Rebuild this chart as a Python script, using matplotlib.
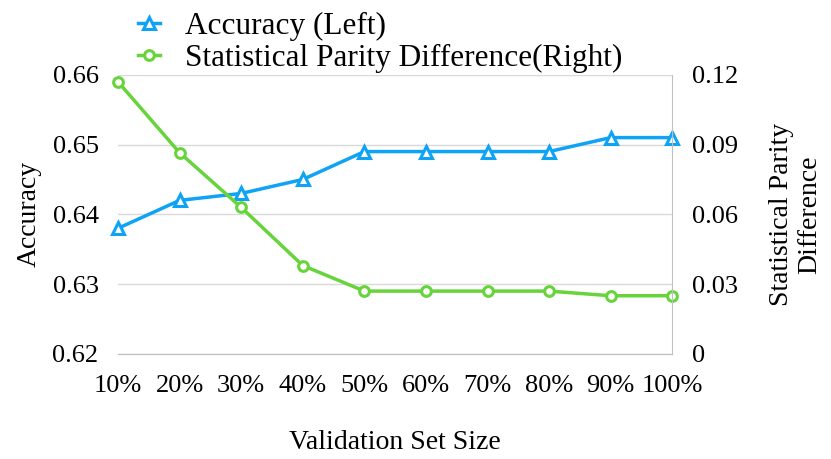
import matplotlib.pyplot as plt

sizes = ["10%", "20%", "30%", "40%", "50%", "60%", "70%", "80%", "90%", "100%"]
accuracy = [0.638, 0.642, 0.643, 0.645, 0.649, 0.649, 0.649, 0.649, 0.651, 0.651]
spd = [0.117, 0.0865, 0.063, 0.038, 0.027, 0.027, 0.027, 0.027, 0.025, 0.025]

plt.rcParams['font.family'] = ['Liberation Serif', 'DejaVu Serif']
plt.rcParams['font.size'] = 19

blue = '#0fa3f5'
green = '#66d43a'

fig = plt.figure(figsize=(8.31, 4.59), dpi=100)
ax = fig.add_axes([0.142, 0.229, 0.667, 0.608])
ax2 = ax.twinx()

x = list(range(len(sizes)))
l1, = ax.plot(x, accuracy, color=blue, lw=2.5, marker='^', ms=9, mfc='white',
              mec=blue, mew=2.2, label='Accuracy (Left)', clip_on=False, zorder=3)
l2, = ax2.plot(x, spd, color=green, lw=2.5, marker='o', ms=7, mfc='white',
               mec=green, mew=2.2, label='Statistical Parity Difference(Right)', clip_on=False)

ax.set_xlim(0, len(sizes) - 1)
ax.set_ylim(0.62, 0.66)
ax.set_yticks([0.62, 0.63, 0.64, 0.65, 0.66])
ax.set_yticklabels(['0.62', '0.63', '0.64', '0.65', '0.66'])
ax2.set_ylim(0, 0.12)
ax2.set_yticks([0, 0.03, 0.06, 0.09, 0.12])
ax2.set_yticklabels(['0', '0.03', '0.06', '0.09', '0.12'])
ax.set_xticks(x)
ax.set_xticklabels(sizes)

ax.grid(axis='y', color='#d9d9d9', lw=1)
ax.set_axisbelow(True)
for a in (ax, ax2):
    a.spines['top'].set_visible(False)
    a.spines['left'].set_visible(False)
    a.spines['bottom'].set_color('#bfbfbf')
    a.spines['right'].set_color('#bfbfbf')
    a.tick_params(length=0, labelsize=19)
ax.spines['right'].set_visible(False)
ax.tick_params(axis='x', pad=15)
ax.tick_params(axis='y', pad=14)
ax2.tick_params(axis='y', pad=14)

ax.set_xlabel('Validation Set Size', fontsize=20, labelpad=24)
ax.set_ylabel('Accuracy', fontsize=20, labelpad=8)
ax2.set_ylabel('Statistical Parity\nDifference', fontsize=20, labelpad=22)

fig.legend(handles=[l1, l2], loc='upper left', bbox_to_anchor=(0.132, 1.035),
           frameon=False, fontsize=22.5, handlelength=0.7, handletextpad=0.8,
           labelspacing=0.08)

plt.savefig('out.png', dpi=100)
